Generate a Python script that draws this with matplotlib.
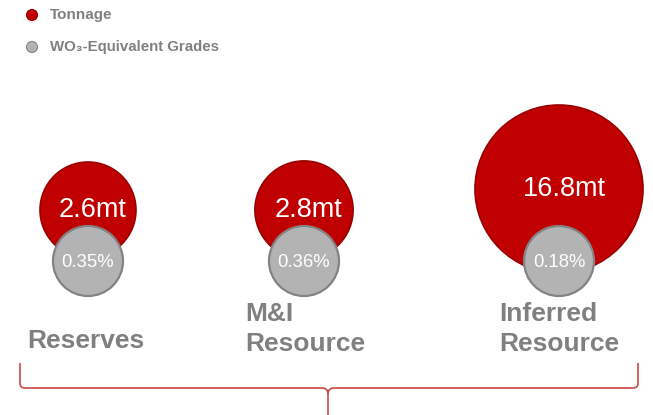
import matplotlib.pyplot as plt
from matplotlib.patches import Circle, PathPatch
from matplotlib.path import Path

plt.rcParams['font.family'] = ['Liberation Sans', 'DejaVu Sans']

# data
categories = ["Reserves", "M&I\nResource", "Inferred\nResource"]
tonnage = [2.6, 2.8, 16.8]          # mt
grades = [0.35, 0.36, 0.18]         # % WO3-equivalent

# layout (pixel coordinates of a 653x415 canvas)
x_centers = [88, 304, 559]
red_y = [210, 210, 189]
gray_y = 261
gray_r = 35
label_x = [27, 245, 499]
label_y = [341, 329, 329]

RED = "#C00000"
RED_EDGE = "#9A0000"
GRAY = "#B3B3B3"
GRAY_EDGE = "#838383"
TXT = "#808080"
BRACE = "#C84848"

fig = plt.figure(figsize=(6.53, 4.15), dpi=100)
ax = fig.add_axes([0, 0, 1, 1])
ax.set_xlim(0, 653)
ax.set_ylim(415, 0)
ax.set_aspect("equal")
ax.axis("off")

for i, cat in enumerate(categories):
    r = 48 * (tonnage[i] / tonnage[0]) ** 0.3
    ax.add_patch(Circle((x_centers[i], red_y[i]), r, facecolor=RED,
                        edgecolor=RED_EDGE, lw=1.2, zorder=2))
    ax.text(x_centers[i] + 5, red_y[i], "%.1fmt" % tonnage[i], color="white",
            fontsize=19.5, ha="center", va="center", zorder=3)
    ax.add_patch(Circle((x_centers[i], gray_y), gray_r, facecolor=GRAY,
                        edgecolor=GRAY_EDGE, lw=1.6, zorder=4))
    ax.text(x_centers[i], gray_y + 1, "%.2f%%" % grades[i], color="white",
            fontsize=13.3, ha="center", va="center", zorder=5)
    ax.text(label_x[i], label_y[i], cat, color=TXT, fontsize=19,
            fontweight="bold", ha="left", va="center", linespacing=1.3)

# legend
ax.add_patch(Circle((32, 15), 5.5, facecolor=RED, edgecolor=RED_EDGE, lw=0.8))
ax.text(50, 15, "Tonnage", color=TXT, fontsize=11, fontweight="bold",
        va="center")
ax.add_patch(Circle((32, 47), 5.5, facecolor=GRAY, edgecolor=GRAY_EDGE, lw=0.8))
ax.text(50, 47, "WO₃-Equivalent Grades", color=TXT, fontsize=10.8,
        fontweight="bold", va="center")

# brace under the categories
mid = 328
verts = [(20, 363), (20, 383), (20, 388), (25, 388), (mid - 6, 388),
         (mid, 388), (mid, 394), (mid, 415),
         (mid, 394), (mid, 388), (mid + 6, 388), (633, 388),
         (638, 388), (638, 383), (638, 363)]
codes = [Path.MOVETO, Path.LINETO, Path.CURVE3, Path.CURVE3, Path.LINETO,
         Path.CURVE3, Path.CURVE3, Path.LINETO,
         Path.MOVETO, Path.CURVE3, Path.CURVE3, Path.LINETO,
         Path.CURVE3, Path.CURVE3, Path.LINETO]
ax.add_patch(PathPatch(Path(verts, codes), facecolor="none", edgecolor=BRACE,
                       lw=1.2))

plt.savefig("out.png", dpi=100)
